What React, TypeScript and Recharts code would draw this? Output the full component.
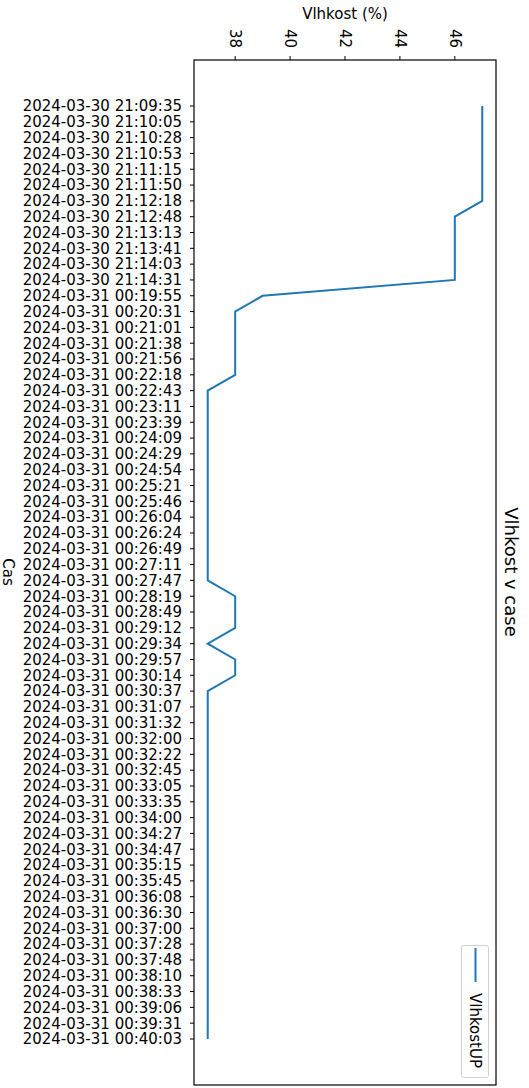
import { LineChart, Line, XAxis, YAxis, Legend } from "recharts";

const times = [
  "2024-03-30 21:09:35", "2024-03-30 21:10:05", "2024-03-30 21:10:28", "2024-03-30 21:10:53",
  "2024-03-30 21:11:15", "2024-03-30 21:11:50", "2024-03-30 21:12:18", "2024-03-30 21:12:48",
  "2024-03-30 21:13:13", "2024-03-30 21:13:41", "2024-03-30 21:14:03", "2024-03-30 21:14:31",
  "2024-03-31 00:19:55", "2024-03-31 00:20:31", "2024-03-31 00:21:01", "2024-03-31 00:21:38",
  "2024-03-31 00:21:56", "2024-03-31 00:22:18", "2024-03-31 00:22:43", "2024-03-31 00:23:11",
  "2024-03-31 00:23:39", "2024-03-31 00:24:09", "2024-03-31 00:24:29", "2024-03-31 00:24:54",
  "2024-03-31 00:25:21", "2024-03-31 00:25:46", "2024-03-31 00:26:04", "2024-03-31 00:26:24",
  "2024-03-31 00:26:49", "2024-03-31 00:27:11", "2024-03-31 00:27:47", "2024-03-31 00:28:19",
  "2024-03-31 00:28:49", "2024-03-31 00:29:12", "2024-03-31 00:29:34", "2024-03-31 00:29:57",
  "2024-03-31 00:30:14", "2024-03-31 00:30:37", "2024-03-31 00:31:07", "2024-03-31 00:31:32",
  "2024-03-31 00:32:00", "2024-03-31 00:32:22", "2024-03-31 00:32:45", "2024-03-31 00:33:05",
  "2024-03-31 00:33:35", "2024-03-31 00:34:00", "2024-03-31 00:34:27", "2024-03-31 00:34:47",
  "2024-03-31 00:35:15", "2024-03-31 00:35:45", "2024-03-31 00:36:08", "2024-03-31 00:36:30",
  "2024-03-31 00:37:00", "2024-03-31 00:37:28", "2024-03-31 00:37:48", "2024-03-31 00:38:10",
  "2024-03-31 00:38:33", "2024-03-31 00:39:06", "2024-03-31 00:39:31", "2024-03-31 00:40:03",
];

const humidity = [
  47, 47, 47, 47, 47, 47, 47, 46, 46, 46, 46, 46,
  39, 38, 38, 38, 38, 38, 37, 37, 37, 37, 37, 37,
  37, 37, 37, 37, 37, 37, 37, 38, 38, 38, 37, 38,
  38, 37, 37, 37, 37, 37, 37, 37, 37, 37, 37, 37,
  37, 37, 37, 37, 37, 37, 37, 37, 37, 37, 37, 37,
];

const valueTicks = [38, 40, 42, 44, 46];

const data = times.map((t, i) => ({ time: t, VlhkostUP: humidity[i] }));

const FONT = "'DejaVu Sans', sans-serif";

const ValueTick = ({ x, y, payload }: any) => (
  <text
    x={x}
    y={y}
    transform={`rotate(90 ${x} ${y})`}
    textAnchor="end"
    dominantBaseline="central"
    fontSize={15}
    fontFamily={FONT}
    fill="#000"
  >
    {payload.value}
  </text>
);

const LegendBox = ({ payload }: any) => {
  const item = payload && payload[0];
  if (!item) return null;
  return (
    <svg width={28} height={133} style={{ display: "block" }}>
      <rect x={0.5} y={0.5} width={27} height={132} rx={2} fill="#fff" stroke="#d0d0d0" />
      <line x1={14.5} y1={3} x2={14.5} y2={37} stroke={item.color} strokeWidth={2} />
      <text
        x={14}
        y={48}
        transform="rotate(90 14 48)"
        dominantBaseline="central"
        fontSize={15}
        fontFamily={FONT}
        fill="#000"
      >
        {item.value}
      </text>
    </svg>
  );
};

export default function App() {
  return (
    <div style={{ position: "absolute", left: 0, top: 0 }}>
      <LineChart
        width={529}
        height={1088}
        data={data}
        layout="vertical"
        margin={{ top: 0, right: 33, bottom: 3, left: 0 }}
      >
        <XAxis
          type="number"
          orientation="top"
          domain={[36.5, 47.5]}
          ticks={valueTicks}
          allowDataOverflow
          height={60}
          axisLine={false}
          tickLine={{ stroke: "#000" }}
          tickSize={4}
          tickMargin={8}
          tick={<ValueTick />}
        />
        <YAxis
          type="category"
          dataKey="time"
          width={194}
          interval={0}
          padding={{ top: 46, bottom: 46 }}
          axisLine={false}
          tickLine={{ stroke: "#000" }}
          tickSize={4}
          tickMargin={8}
          tick={{ fontSize: 15, fill: "#000", fontFamily: FONT }}
        />
        <Legend
          layout="vertical"
          align="center"
          verticalAlign="middle"
          content={<LegendBox />}
          wrapperStyle={{ left: 461, top: 945, width: 28, height: 133 }}
        />
        <Line
          type="linear"
          dataKey="VlhkostUP"
          stroke="#1f77b4"
          strokeWidth={2}
          dot={false}
          isAnimationActive={false}
        />
        <rect x={194} y={60} width={302} height={1025} fill="none" stroke="#000" strokeWidth={1.2} />
        <text x={345} y={14} textAnchor="middle" dominantBaseline="central" fontSize={15} fontFamily={FONT} fill="#000">
          Vlhkost (%)
        </text>
        <text
          x={8}
          y={572}
          transform="rotate(90 8 572)"
          textAnchor="middle"
          dominantBaseline="central"
          fontSize={15}
          fontFamily={FONT}
          fill="#000"
        >
          Cas
        </text>
        <text
          x={511}
          y={572}
          transform="rotate(90 511 572)"
          textAnchor="middle"
          dominantBaseline="central"
          fontSize={18}
          fontFamily={FONT}
          fill="#000"
        >
          Vlhkost v case
        </text>
      </LineChart>
    </div>
  );
}
